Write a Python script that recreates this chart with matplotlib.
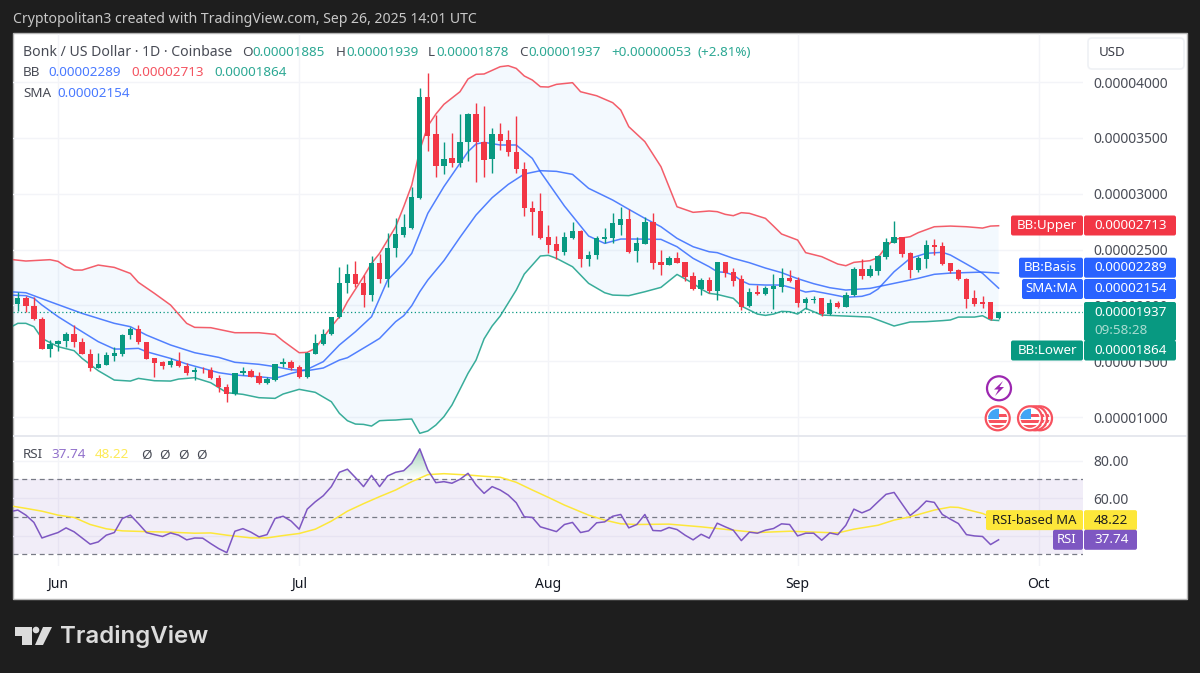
import matplotlib
matplotlib.use("Agg")
import matplotlib.pyplot as plt
import numpy as np
from matplotlib.patches import Circle, FancyBboxPatch, Polygon, Rectangle
from matplotlib.path import Path

plt.rcParams["font.family"] = ["Noto Sans", "DejaVu Sans"]

# prices are in units of 1e-8 USD, days are counted from Jun 1 2025
PRICE_UNIT = 1e-8
candle_days = np.arange(-5, 118)
opens = [
    2012, 2069, 1997, 1875, 1609, 1654, 1684, 1743, 1675, 1561, 1442, 1469, 1549, 1564, 1731, 1788,
    1672, 1525, 1492, 1469, 1498, 1460, 1403, 1433, 1421, 1352, 1272, 1209, 1391, 1415, 1367, 1307,
    1331, 1472, 1489, 1448, 1358, 1567, 1654, 1743, 1892, 2197, 2277, 2197, 2092, 2376, 2236, 2510,
    2630, 2689, 2961, 3869, 3531, 3251, 3322, 3277, 3460, 3713, 3466, 3313, 3534, 3477, 3376, 3218,
    2875, 2845, 2612, 2546, 2480, 2603, 2663, 2415, 2451, 2594, 2603, 2719, 2770, 2483, 2552, 2749,
    2385, 2361, 2427, 2385, 2260, 2143, 2227, 2131, 2385, 2295, 2236, 1994, 2122, 2098, 2146, 2164,
    2242, 2227, 2018, 2048, 2063, 1919, 2018, 1988, 2093, 2322, 2263, 2307, 2436, 2561, 2612, 2466,
    2316, 2415, 2540, 2531, 2376, 2313, 2236, 2063, 2033, 2027, 1885,
]
highs = [
    2122, 2087, 2078, 1893, 1690, 1690, 1764, 1824, 1704, 1606, 1570, 1585, 1624, 1740, 1809, 1824,
    1675, 1525, 1504, 1525, 1585, 1486, 1451, 1451, 1451, 1376, 1295, 1397, 1445, 1427, 1403, 1361,
    1475, 1525, 1510, 1466, 1582, 1743, 1785, 1898, 2340, 2367, 2397, 2272, 2442, 2460, 2645, 2779,
    2818, 3063, 3949, 4078, 3704, 3466, 3540, 3710, 3719, 3809, 3785, 3591, 3636, 3570, 3695, 3286,
    2934, 3003, 2719, 2621, 2654, 2743, 2674, 2489, 2621, 2689, 2830, 2883, 2863, 2609, 2794, 2830,
    2495, 2442, 2480, 2391, 2295, 2242, 2251, 2385, 2391, 2331, 2272, 2152, 2182, 2173, 2281, 2331,
    2316, 2251, 2072, 2084, 2069, 2060, 2042, 2122, 2346, 2412, 2361, 2451, 2606, 2755, 2615, 2481,
    2439, 2585, 2594, 2567, 2382, 2325, 2242, 2137, 2087, 2033, 1939,
]
lows = [
    1952, 1943, 1869, 1606, 1540, 1594, 1630, 1630, 1564, 1415, 1439, 1466, 1504, 1549, 1695, 1651,
    1516, 1361, 1433, 1451, 1445, 1373, 1331, 1391, 1337, 1227, 1137, 1200, 1376, 1355, 1295, 1295,
    1325, 1445, 1421, 1346, 1349, 1564, 1645, 1734, 1883, 2107, 2167, 1982, 2042, 2203, 2167, 2430,
    2615, 2683, 2955, 3385, 3152, 3173, 3242, 3242, 3295, 3101, 3146, 3188, 3391, 3337, 3182, 2800,
    2627, 2597, 2466, 2415, 2448, 2597, 2340, 2352, 2412, 2561, 2561, 2630, 2466, 2388, 2549, 2328,
    2272, 2358, 2376, 2221, 2137, 2089, 2107, 2048, 2251, 2176, 1958, 1982, 2089, 2089, 1967, 2119,
    2212, 1988, 1967, 2024, 1904, 1916, 1979, 1982, 2084, 2236, 2251, 2275, 2412, 2555, 2430, 2245,
    2301, 2334, 2451, 2364, 2293, 2227, 1979, 1997, 1976, 1869, 1878,
]
closes = [
    2069, 1997, 1875, 1609, 1651, 1684, 1746, 1669, 1564, 1442, 1472, 1552, 1570, 1734, 1788, 1669,
    1522, 1486, 1460, 1501, 1457, 1391, 1421, 1427, 1346, 1266, 1206, 1394, 1415, 1361, 1301, 1340,
    1472, 1496, 1439, 1355, 1570, 1660, 1743, 1892, 2197, 2277, 2191, 2092, 2376, 2236, 2510, 2639,
    2698, 2970, 3869, 3513, 3251, 3310, 3277, 3466, 3713, 3460, 3301, 3534, 3471, 3376, 3218, 2869,
    2839, 2606, 2543, 2483, 2612, 2663, 2415, 2454, 2600, 2609, 2734, 2770, 2480, 2555, 2749, 2376,
    2361, 2427, 2376, 2251, 2143, 2227, 2131, 2385, 2287, 2221, 1988, 2122, 2098, 2155, 2176, 2245,
    2218, 2018, 2054, 2057, 1919, 2018, 1988, 2093, 2322, 2263, 2322, 2445, 2567, 2612, 2457, 2316,
    2424, 2540, 2519, 2370, 2304, 2233, 2057, 2015, 2012, 1875, 1937,
]

# Bollinger and SMA lines, read at the days where the curves bend
upper_days = [
    -6, -4, -1, 0, 1, 2, 3, 5, 7, 9, 10, 12, 14, 16, 17, 19, 22, 25, 27, 28, 30, 31, 32, 34, 35, 36, 38,
    39, 40, 42, 43, 44, 45, 46, 47, 48, 50, 51, 52, 53, 55, 56, 57, 58, 59, 60, 61, 62, 64, 65, 67, 69,
    70, 71, 73, 75, 76, 77, 79, 81, 82, 83, 84, 85, 86, 88, 89, 90, 92, 93, 95, 97, 98, 99, 101, 102,
    103, 104, 106, 107, 109, 111, 113, 115, 116, 117,
]
upper = [
    2412, 2397, 2409, 2394, 2346, 2316, 2316, 2361, 2340, 2286, 2206, 2107, 2003, 1839, 1803, 1800, 1755,
    1755, 1740, 1681, 1576, 1579, 1615, 1809, 1898, 2033, 2257, 2376, 2466, 2704, 2883, 3077, 3391, 3606,
    3713, 3800, 3913, 4027, 4069, 4072, 4137, 4146, 4122, 4054, 4018, 3958, 3955, 3979, 3994, 3913, 3877,
    3815, 3749, 3600, 3466, 3242, 3063, 2883, 2833, 2845, 2839, 2815, 2803, 2830, 2824, 2779, 2710, 2639,
    2585, 2472, 2436, 2370, 2355, 2385, 2400, 2427, 2525, 2591, 2615, 2651, 2704, 2710, 2704, 2692, 2710,
    2713,
]
lower_days = [
    -6, -5, -4, -3, -2, 0, 2, 3, 5, 7, 9, 10, 12, 14, 15, 17, 19, 21, 23, 25, 27, 28, 30, 32, 34, 35, 36,
    37, 38, 39, 40, 41, 42, 43, 44, 45, 46, 47, 48, 49, 50, 51, 52, 53, 54, 55, 57, 58, 60, 61, 62, 64,
    66, 68, 69, 71, 73, 75, 77, 79, 80, 81, 82, 84, 85, 87, 88, 89, 90, 91, 92, 93, 95, 97, 101, 102,
    104, 106, 108, 110, 111, 112, 114, 115, 116, 117,
]
lower = [
    1800, 1839, 1839, 1809, 1704, 1630, 1594, 1525, 1415, 1331, 1322, 1346, 1325, 1322, 1340, 1352, 1307,
    1218, 1203, 1173, 1167, 1206, 1248, 1221, 1137, 1033, 967, 937, 934, 919, 967, 971, 973, 979, 982,
    854, 875, 928, 1003, 1107, 1248, 1391, 1510, 1700, 1815, 1904, 2137, 2280, 2442, 2448, 2421, 2346,
    2197, 2113, 2092, 2087, 2122, 2161, 2277, 2197, 2146, 2107, 2098, 2063, 1994, 1922, 1910, 1922, 1946,
    1943, 1922, 1973, 1913, 1907, 1895, 1869, 1815, 1851, 1854, 1863, 1869, 1895, 1895, 1907, 1869, 1864,
]
basis_days = [
    -6, -4, -1, 3, 7, 9, 11, 14, 17, 20, 22, 25, 27, 29, 31, 33, 35, 36, 39, 40, 42, 43, 44, 45, 46, 48,
    50, 52, 54, 56, 58, 60, 62, 64, 66, 69, 71, 73, 75, 77, 79, 81, 82, 84, 86, 88, 90, 92, 94, 96, 98,
    101, 103, 105, 107, 109, 111, 115, 117,
]
basis = [
    2122, 2113, 2033, 1928, 1839, 1809, 1734, 1645, 1576, 1534, 1490, 1472, 1451, 1424, 1415, 1439, 1510,
    1531, 1660, 1704, 1854, 1907, 1997, 2122, 2227, 2400, 2609, 2809, 2964, 3083, 3176, 3206, 3200, 3173,
    3048, 2943, 2860, 2779, 2704, 2600, 2525, 2480, 2472, 2421, 2382, 2334, 2293, 2239, 2194, 2158, 2137,
    2152, 2182, 2212, 2242, 2278, 2289, 2298, 2289,
]
sma_days = [
    -6, -4, -3, -2, 0, 3, 5, 7, 8, 10, 11, 14, 16, 18, 20, 22, 25, 27, 29, 31, 33, 35, 37, 39, 41, 42, 43,
    44, 45, 46, 48, 50, 51, 52, 53, 55, 57, 59, 60, 63, 66, 68, 70, 72, 75, 77, 79, 81, 82, 83, 84, 85,
    86, 88, 90, 92, 93, 94, 96, 98, 100, 101, 102, 104, 106, 108, 110, 111, 113, 115, 117,
]
sma = [
    2092, 2087, 2063, 2003, 1899, 1764, 1675, 1609, 1609, 1615, 1585, 1525, 1475, 1436, 1397, 1376, 1361,
    1346, 1391, 1427, 1496, 1645, 1764, 1898, 2227, 2301, 2376, 2466, 2645, 2824, 3063, 3272, 3376, 3445,
    3460, 3436, 3436, 3316, 3197, 2889, 2621, 2555, 2594, 2594, 2591, 2525, 2421, 2346, 2301, 2295, 2272,
    2221, 2188, 2182, 2182, 2143, 2119, 2128, 2101, 2072, 2081, 2101, 2146, 2301, 2421, 2466, 2475, 2451,
    2370, 2287, 2154,
]

# RSI pane
rsi_days = np.arange(-6, 118)
rsi = [
    52.7, 53.6, 50.9, 47, 38.7, 40.2, 41.6, 44.1, 42, 38.7, 35.4, 36.6, 40.2, 41.6, 49.1, 50.9, 46.4,
    41.6, 40.5, 39.5, 41.4, 40.2, 37.7, 38.7, 38.6, 35.7, 33, 30.9, 42.3, 43.7, 41.8, 39.3, 40.5, 49.1,
    50.3, 47.7, 43.4, 54.1, 58, 61.25, 66.1, 73.75, 75.4, 70.9, 66.1, 72.1, 66.1, 71.8, 73.75, 74.6,
    78.6, 86.25, 75, 68.2, 68.75, 67.9, 70, 73.2, 67, 62.5, 66.1, 64.3, 61.6, 57.5, 50, 49.65, 44.65,
    43.4, 42.1, 45.9, 47, 41.6, 42.5, 46.8, 47.3, 50.3, 51.25, 44.1, 45.9, 51.25, 42.7, 42.5, 44.3, 43.2,
    40.2, 37.7, 40.7, 38.6, 46.6, 44.65, 42.85, 37.3, 41.8, 41.25, 42.85, 43.75, 46.25, 45.9, 39.8, 41.25,
    41.25, 37.5, 41.4, 40.5, 45.5, 54.1, 52.1, 53.9, 58, 62, 63, 56.8, 50.7, 54.1, 58.4, 57.7, 51.25,
    48.75, 46.4, 40.5, 39.8, 39.5, 35.2, 37.74,
]
rsi_ma_days = [
    -6, -4, -2, 0, 2, 4, 6, 8, 11, 14, 17, 19, 21, 24, 26, 28, 30, 32, 34, 36, 38, 40, 42, 44, 46, 48, 51,
    53, 55, 57, 59, 61, 63, 66, 68, 70, 72, 76, 80, 84, 87, 91, 97, 99, 102, 104, 106, 109, 111, 112, 115,
    117,
]
rsi_ma = [
    55.9, 54.5, 53, 50.9, 49.65, 45.9, 43.6, 42.5, 42.1, 41.8, 41.25, 41.4, 40.2, 38.75, 38.75, 40, 41.1,
    43.4, 47.7, 53, 57, 60.75, 64.3, 68.75, 72.5, 73, 72.3, 71.6, 71.1, 68.4, 64.3, 60.35, 56.25, 50.9,
    48.25, 46.25, 45.9, 46.1, 44.65, 42.85, 41.6, 42.3, 41.4, 43.4, 45.5, 48.25, 50, 53.6, 55.2, 55, 51.8,
    48.22,
]

price_ticks = [1000, 1500, 2000, 2500, 3000, 3500, 4000]
rsi_ticks = [40, 60, 80]
month_days = [0, 30, 61, 92, 122]
month_labels = ["Jun", "Jul", "Aug", "Sep", "Oct"]

GREEN = "#089981"
RED = "#f23645"
BLUE = "#2962ff"
PURPLE = "#7e57c2"
YELLOW = "#fde73a"
GRID = "#f3f4f8"
TEXT = "#4a4d57"
W, H = 1200, 673


def pane(left, top, right, bottom):
    return fig.add_axes([left / W, 1 - bottom / H, (right - left) / W, (bottom - top) / H])


def to_price(values):
    return np.asarray(values, dtype=float) * PRICE_UNIT


def box(x0, y0, x1, y1, color, radius=2):
    ov.add_patch(FancyBboxPatch((x0, y0), x1 - x0, y1 - y0, facecolor=color, edgecolor="none",
                                boxstyle=f"round,pad=0,rounding_size={radius}"))


def price_tag(y, name, value, color, name_x):
    box(name_x, y - 10, 1083, y + 10, color)
    box(1084, y - 10, 1176, y + 10, color)
    ov.text(1077, y, name, color="white", fontsize=9.6, ha="right", va="center")
    ov.text(1094, y, value, color="white", fontsize=9.7, va="center")


def rsi_tag(y, name, value, color, text_color, name_x):
    box(name_x, y - 10, 1083, y + 10, color)
    box(1084, y - 10, 1137, y + 10, color)
    ov.text(1077, y, name, color=text_color, fontsize=9.4, ha="right", va="center")
    ov.text(1094, y, value, color=text_color, fontsize=9.7, va="center")


def flag(cx, cy):
    ov.add_patch(Circle((cx, cy), 12, facecolor="white", edgecolor="#f7525f", lw=1.6))
    clip = Circle((cx, cy), 9.5, transform=ov.transData)
    for y in [cy - 3, cy + 3, cy + 8]:
        stripe = Rectangle((cx - 10, y - 1.4), 20, 2.8, facecolor="#f7525f", edgecolor="none")
        ov.add_patch(stripe)
        stripe.set_clip_path(clip)
    canton = Rectangle((cx - 10, cy - 10), 11, 10.5, facecolor="#42a5f5", edgecolor="none")
    ov.add_patch(canton)
    canton.set_clip_path(clip)


fig = plt.figure(figsize=(W / 100, H / 100), dpi=100, facecolor="#1e1e1e")
fig.add_artist(Rectangle((13 / W, 1 - 599 / H), 1174 / W, 566 / H, transform=fig.transFigure,
                         facecolor="white", edgecolor="#b4b4b4", lw=1, zorder=-1))

# price pane
ax = pane(13, 34, 1083, 435)
ax.set_facecolor("none")
ax.set_xlim(-5.6, 127.5)
ax.set_ylim(to_price(839), to_price(4430))
for side in ax.spines.values():
    side.set_visible(False)
ax.set_xticks(month_days)
ax.tick_params(axis="x", length=0, labelbottom=False)
ax.yaxis.tick_right()
ax.set_yticks(to_price(price_ticks))
ax.set_yticklabels([f"{p:.8f}" for p in to_price(price_ticks)], fontsize=10, color=TEXT)
ax.tick_params(axis="y", length=0, pad=7.5)
ax.grid(color=GRID, lw=1)
ax.set_axisbelow(True)

ax.fill(np.r_[upper_days, lower_days[::-1]], to_price(upper + lower[::-1]), color="#2196f3", alpha=0.05, lw=0)
ax.plot(upper_days, to_price(upper), color=RED, lw=1.1, alpha=0.8, zorder=2)
ax.plot(lower_days, to_price(lower), color=GREEN, lw=1.1, alpha=0.8, zorder=2)
ax.plot(basis_days, to_price(basis), color=BLUE, lw=1.1, alpha=0.8, zorder=2)
ax.plot(sma_days, to_price(sma), color=BLUE, lw=1.1, alpha=0.8, zorder=2)
ax.axhline(to_price(closes[-1]), color=GREEN, lw=0.9, ls=(0, (1, 2)), zorder=2)

o, h, l, c = to_price(opens), to_price(highs), to_price(lows), to_price(closes)
colors = [GREEN if close >= open_ else RED for open_, close in zip(o, c)]
ax.vlines(candle_days, l, h, colors=colors, lw=1, zorder=3)
ax.bar(candle_days, np.abs(c - o), bottom=np.minimum(o, c), width=0.66, color=colors, lw=0, zorder=4)

# RSI pane
rsi_ax = pane(13, 436, 1083, 566)
rsi_ax.set_facecolor("none")
rsi_ax.set_xlim(ax.get_xlim())
rsi_ax.set_ylim(23.76, 93.1)
for side in rsi_ax.spines.values():
    side.set_visible(False)
rsi_ax.set_xticks(month_days)
rsi_ax.set_xticklabels(month_labels, fontsize=10, color="#131722", fontweight="semibold")
rsi_ax.tick_params(axis="x", length=0, pad=8)
rsi_ax.yaxis.tick_right()
rsi_ax.set_yticks(rsi_ticks)
rsi_ax.set_yticklabels([f"{t:.2f}" for t in rsi_ticks], fontsize=10, color=TEXT)
rsi_ax.tick_params(axis="y", length=0, pad=7.5)
rsi_ax.grid(color=GRID, lw=1)
rsi_ax.set_axisbelow(True)

rsi_ax.axhspan(30, 70, color=PURPLE, alpha=0.1, lw=0)
for level in [70, 50, 30]:
    rsi_ax.axhline(level, color="#787b86", lw=0.9, ls=(0, (4, 3)))

rsi_arr = np.array(rsi)
hot = rsi_ax.fill_between(rsi_days, rsi_arr, 70, where=rsi_arr > 70, interpolate=True, color="none")
shade = rsi_ax.imshow(np.linspace(0, 1, 64).reshape(-1, 1), extent=[-6, 118, 70, 90], origin="lower",
                      cmap=matplotlib.colors.LinearSegmentedColormap.from_list("hot", ["#ffffff", "#8fcba9"]),
                      aspect="auto", zorder=1)
shade.set_clip_path(Path.make_compound_path(*hot.get_paths()), transform=rsi_ax.transData)
rsi_ax.set_xlim(ax.get_xlim())
rsi_ax.set_ylim(23.76, 93.1)
rsi_ax.plot(rsi_ma_days, rsi_ma, color=YELLOW, lw=1.1, zorder=3)
rsi_ax.plot(rsi_days, rsi, color=PURPLE, lw=1.1, zorder=4)

# everything below sits on a full-figure overlay in screen pixels
ov = fig.add_axes([0, 0, 1, 1], zorder=10)
ov.set_xlim(0, W)
ov.set_ylim(H, 0)
ov.axis("off")
ov.patch.set_alpha(0)
ov.add_patch(Rectangle((13, 435), 1174, 1.5, facecolor="#e6e8ee", edgecolor="none"))


def price_y(p):
    return H - ax.transData.transform((0, p * PRICE_UNIT))[1]


def rsi_y(v):
    return H - rsi_ax.transData.transform((0, v))[1]


ov.text(13, 19.5, "Cryptopolitan3 created with TradingView.com, Sep 26, 2025 14:01 UTC",
        color="#c8c8c8", fontsize=10.15, va="center")

# legend rows
LEG = "#484b55"
ov.text(23, 52.5, "Bonk / US Dollar · 1D · Coinbase", color=LEG, fontsize=10.1, va="center")
for x, y, s, col in [
    (242, 52.5, "O", LEG), (252, 52.5, "0.00001885", GREEN),
    (336, 52.5, "H", LEG), (346, 52.5, "0.00001939", GREEN),
    (428, 52.5, "L", LEG), (436, 52.5, "0.00001878", GREEN),
    (519, 52.5, "C", LEG), (528, 52.5, "0.00001937", GREEN),
    (611, 52.5, "+0.00000053", GREEN), (698, 52.5, "(+2.81%)", GREEN),
    (23, 73, "BB", LEG), (48, 73, "0.00002289", BLUE),
    (131, 73, "0.00002713", RED), (214, 73, "0.00001864", GREEN),
    (23, 93.5, "SMA", LEG), (57, 93.5, "0.00002154", BLUE),
    (23, 455, "RSI", LEG), (51, 455, "37.74", PURPLE), (95, 455, "48.22", YELLOW),
    (141, 455, "Ø", LEG), (159, 455, "Ø", LEG), (178, 455, "Ø", LEG), (196, 455, "Ø", LEG),
]:
    ov.text(x, y, s, color=col, fontsize=9.7, va="center", alpha=0.85 if col != LEG else 1)

# USD button
ov.add_patch(FancyBboxPatch((1088, 38), 96, 31, facecolor="white", edgecolor="#eff1f5", lw=1.2,
                            boxstyle="round,pad=0,rounding_size=4"))
ov.text(1099, 53, "USD", color="#3c3f49", fontsize=9.6, va="center")

# price tags, stacked so they do not overlap, as the chart does it
box(1084, 302, 1176, 341, GREEN)
price_tag(225.5, "BB:Upper", "0.00002713", RED, 1011)
price_tag(267.7, "BB:Basis", "0.00002289", BLUE, 1019)
price_tag(289, "SMA:MA", "0.00002154", BLUE, 1022)
price_tag(350.5, "BB:Lower", "0.00001864", GREEN, 1011)
ov.text(1094, price_y(closes[-1]), "0.00001937", color="white", fontsize=9.7, va="center")
ov.text(1094, 330.5, "09:58:28", color="#a9dcd1", fontsize=9.7, va="center")

# RSI tags
rsi_tag(rsi_y(48.22), "RSI-based MA", "48.22", YELLOW, "#1e1e1e", 986)
rsi_tag(rsi_y(37.74), "RSI", "37.74", PURPLE, "white", 1053)

# event markers
ov.add_patch(Circle((999, 388.3), 12, facecolor="white", edgecolor="#9c27b0", lw=1.6))
ov.add_patch(Polygon([(1003, 381), (994, 389.5), (998.5, 389.5), (995, 396), (1004, 387), (999.5, 387)],
                     facecolor="#9c27b0", edgecolor="none"))
for cx in [1040, 1035, 1030, 997.7]:
    flag(cx, 418.3)

# logo
ov.add_patch(Polygon([(15, 627), (32, 627), (32, 645), (22, 645), (22, 636), (15, 636)],
                     facecolor="#dcdcdc", edgecolor="none"))
ov.add_patch(Circle((36, 630), 3.3, facecolor="#dcdcdc", edgecolor="none"))
ov.add_patch(Polygon([(43, 627), (52, 627), (43, 645), (35, 645)], facecolor="#dcdcdc", edgecolor="none"))
ov.text(60, 636.5, "TradingView", color="#dcdcdc", fontsize=17.3, fontweight="semibold",
        family=["Inter", "DejaVu Sans"], va="center")

fig.savefig("out.png", dpi=100, facecolor=fig.get_facecolor())
